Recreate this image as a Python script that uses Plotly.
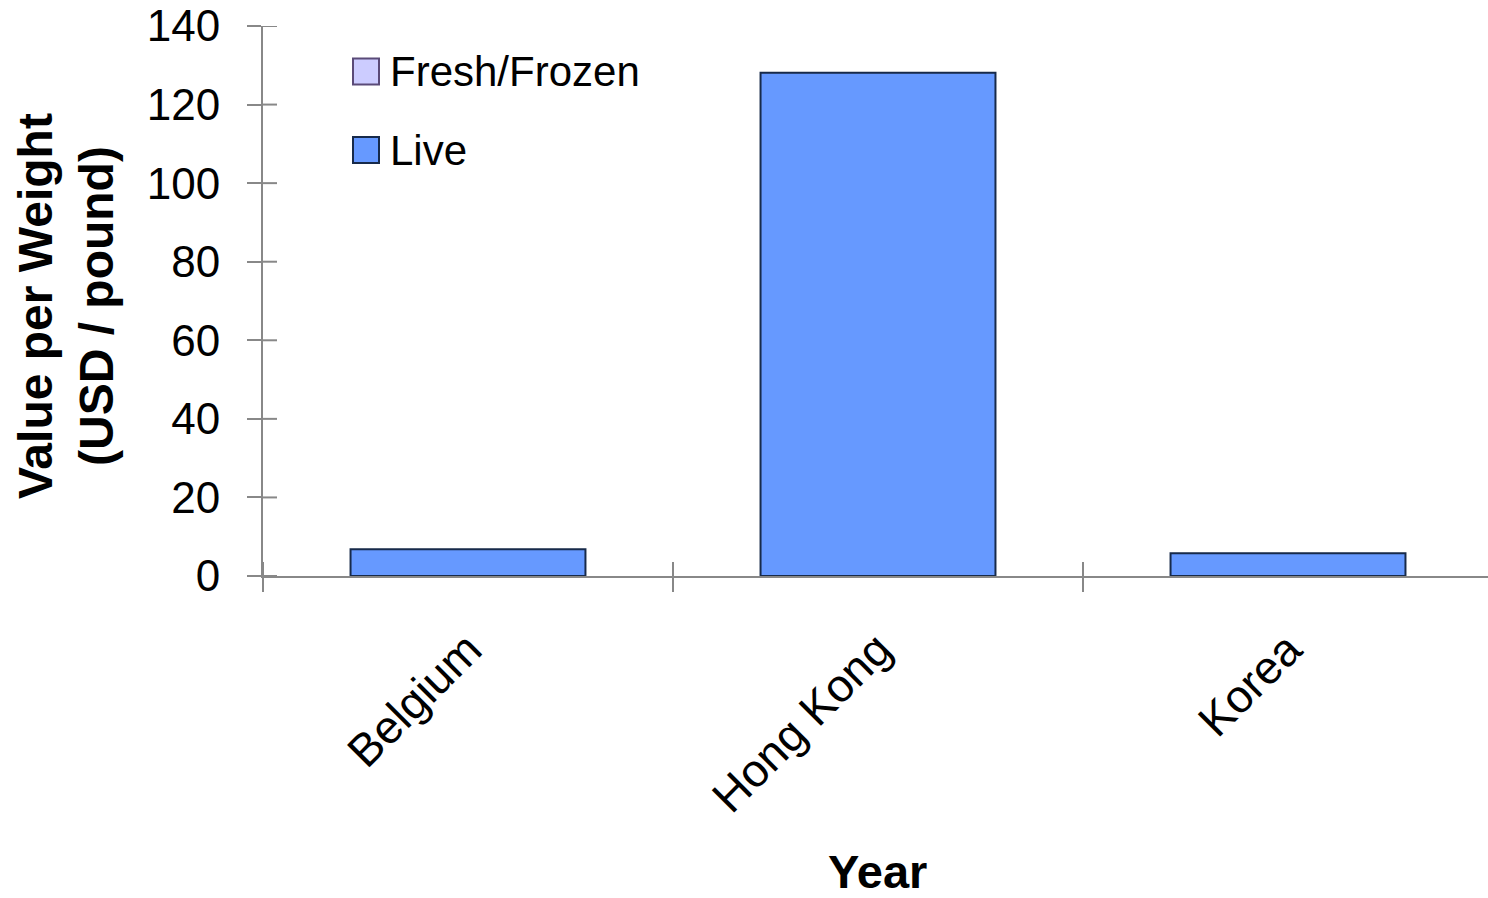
import plotly.graph_objects as go

# Export destinations and value per weight (USD / pound)
countries = ["Belgium", "Hong Kong", "Korea"]
live = [6.8, 128.1, 5.8]
fresh_frozen = [None, None, None]

y_ticks = [0, 20, 40, 60, 80, 100, 120, 140]
x_boundaries = [-0.5, 0.5, 1.5]

LIVE_FILL = "#6699FF"
LIVE_EDGE = "#172A4A"
FF_FILL = "#CCCCFF"
FF_EDGE = "#5A4A78"
AXIS_GREY = "#888888"
FONT = "Liberation Sans, Arial, sans-serif"

W, H = 1488, 898
ML, MR, MT, MB = 263, 0, 26, 322
PW = W - ML - MR
PH = H - MT - MB
CAT_W = 410  # pixel width of one category slot
x_range = [-0.5, -0.5 + PW / CAT_W]
TICK_LEN = 14

fig = go.Figure()
fig.add_trace(go.Bar(
    x=countries, y=fresh_frozen, name="Fresh/Frozen", width=0.573,
    marker=dict(color=FF_FILL, line=dict(color=FF_EDGE, width=2)),
    showlegend=False,
))
fig.add_trace(go.Bar(
    x=countries, y=live, name="Live", width=0.573,
    marker=dict(color=LIVE_FILL, line=dict(color=LIVE_EDGE, width=2)),
    showlegend=False,
))

fig.update_layout(
    width=W, height=H,
    margin=dict(l=ML, r=MR, t=MT, b=MB, pad=0),
    paper_bgcolor="white", plot_bgcolor="white",
    barmode="overlay",
    font=dict(family=FONT, color="black", size=42),
    xaxis=dict(
        type="category", categoryorder="array", categoryarray=countries,
        range=x_range, tickson="boundaries",
        ticks="outside", ticklen=TICK_LEN, tickwidth=2, tickcolor=AXIS_GREY,
        showline=True, linecolor=AXIS_GREY, linewidth=2,
        showgrid=False, zeroline=False, tickangle=-45,
        tickfont=dict(size=46), ticklabelstandoff=26,
        automargin=False,
    ),
    yaxis=dict(
        range=[0, 140], tickvals=y_ticks,
        ticks="outside", ticklen=TICK_LEN, tickwidth=2, tickcolor=AXIS_GREY,
        showline=True, linecolor=AXIS_GREY, linewidth=2,
        showgrid=False, zeroline=False,
        tickfont=dict(size=44), ticklabelstandoff=18,
        automargin=False,
    ),
)

# Inner half of the crossing tick marks
for xb in x_boundaries:
    fig.add_shape(type="line", xref="x", yref="y", ysizemode="pixel", yanchor=0,
                  x0=xb, x1=xb, y0=0, y1=TICK_LEN,
                  line=dict(color=AXIS_GREY, width=2))
for yv in y_ticks:
    fig.add_shape(type="line", yref="y", xref="paper",
                  y0=yv, y1=yv, x0=0, x1=TICK_LEN / PW,
                  line=dict(color=AXIS_GREY, width=2))


def px_x(p):
    return (p - ML) / PW


def px_y(p):
    return (H - MB - p) / PH


# Axis titles
fig.add_annotation(xref="paper", yref="paper", x=px_x(877), y=px_y(871),
                   xanchor="center", yanchor="middle", showarrow=False,
                   text="<b>Year</b>", font=dict(size=47, family=FONT, color="black"))
for txt, cx in [("<b>Value per Weight</b>", 36), ("<b>(USD / pound)</b>", 97)]:
    fig.add_annotation(xref="paper", yref="paper", x=px_x(cx), y=px_y(306),
                       xanchor="center", yanchor="middle", showarrow=False,
                       textangle=-90, text=txt,
                       font=dict(size=48, family=FONT, color="black"))

# Legend: swatches and labels
legend_rows = [("Fresh/Frozen", FF_FILL, FF_EDGE, 71.5), ("Live", LIVE_FILL, LIVE_EDGE, 150)]
for label, fill, edge, cy in legend_rows:
    fig.add_shape(type="rect", xref="paper", yref="paper",
                  x0=px_x(353), x1=px_x(379), y0=px_y(cy + 13), y1=px_y(cy - 13),
                  fillcolor=fill, line=dict(color=edge, width=2))
    fig.add_annotation(xref="paper", yref="paper", x=px_x(388), y=px_y(cy),
                       xanchor="left", yanchor="middle", showarrow=False,
                       text=label, font=dict(size=42, family=FONT, color="black"))

fig.write_html("out.html")
